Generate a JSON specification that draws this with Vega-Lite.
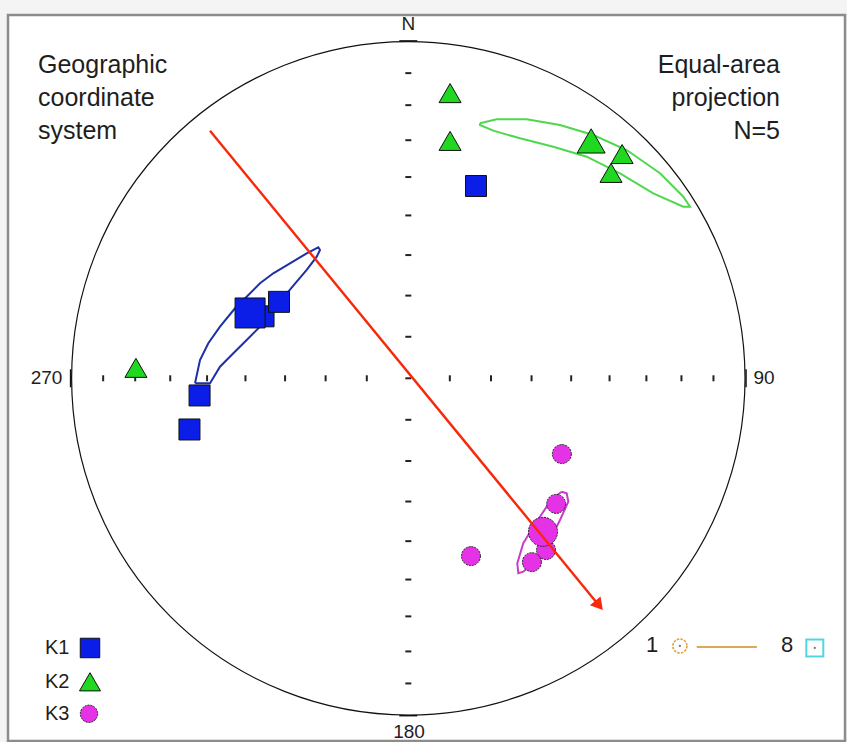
{
  "$schema": "https://vega.github.io/schema/vega-lite/v6.json",
  "width": 847,
  "height": 742,
  "padding": 0,
  "autosize": {"type": "none"},
  "background": "#f4f4f4",
  "config": {"view": {"stroke": null}},
  "datasets": {
    "frame": [{"x": -1.1889, "x2": 1.297, "y": 1.079, "y2": -1.0772}],
    "circle": [{"x": 0, "y": 0}],
    "hticks": [
      {"x": 0, "y": 0.1233}, {"x": 0, "y": 0.2456}, {"x": 0, "y": 0.366}, {"x": 0, "y": 0.4837},
      {"x": 0, "y": 0.5977}, {"x": 0, "y": 0.7071}, {"x": 0, "y": 0.8112}, {"x": 0, "y": 0.9063},
      {"x": 0, "y": -0.1233}, {"x": 0, "y": -0.2456}, {"x": 0, "y": -0.366}, {"x": 0, "y": -0.4837},
      {"x": 0, "y": -0.5977}, {"x": 0, "y": -0.7071}, {"x": 0, "y": -0.8112}, {"x": 0, "y": -0.9063},
      {"x": 0, "y": 0}
    ],
    "vticks": [
      {"y": 0, "x": 0.1233}, {"y": 0, "x": 0.2456}, {"y": 0, "x": 0.366}, {"y": 0, "x": 0.4837},
      {"y": 0, "x": 0.5977}, {"y": 0, "x": 0.7071}, {"y": 0, "x": 0.8112}, {"y": 0, "x": 0.9063},
      {"y": 0, "x": -0.1233}, {"y": 0, "x": -0.2456}, {"y": 0, "x": -0.366}, {"y": 0, "x": -0.4837},
      {"y": 0, "x": -0.5977}, {"y": 0, "x": -0.7071}, {"y": 0, "x": -0.8112}, {"y": 0, "x": -0.9063}
    ],
    "cardNS": [{"x": 0, "y": 1.002}, {"x": 0, "y": -1.002}],
    "cardEW": [{"x": -1.003, "y": 0}, {"x": 1.003, "y": 0}],
    "ell": [
      {"g": "K1", "i": 0, "x": -0.6335, "y": -0.0149},
      {"g": "K1", "i": 1, "x": -0.6187, "y": 0.0544},
      {"g": "K1", "i": 2, "x": -0.594, "y": 0.104},
      {"g": "K1", "i": 3, "x": -0.5593, "y": 0.1533},
      {"g": "K1", "i": 4, "x": -0.5147, "y": 0.2079},
      {"g": "K1", "i": 5, "x": -0.48, "y": 0.2424},
      {"g": "K1", "i": 6, "x": -0.4404, "y": 0.2822},
      {"g": "K1", "i": 7, "x": -0.401, "y": 0.3118},
      {"g": "K1", "i": 8, "x": -0.3514, "y": 0.3415},
      {"g": "K1", "i": 9, "x": -0.3018, "y": 0.3712},
      {"g": "K1", "i": 10, "x": -0.2673, "y": 0.3891},
      {"g": "K1", "i": 11, "x": -0.2623, "y": 0.3811},
      {"g": "K1", "i": 12, "x": -0.2721, "y": 0.3611},
      {"g": "K1", "i": 13, "x": -0.3018, "y": 0.3217},
      {"g": "K1", "i": 14, "x": -0.3315, "y": 0.2869},
      {"g": "K1", "i": 15, "x": -0.3564, "y": 0.2572},
      {"g": "K1", "i": 16, "x": -0.4404, "y": 0.1533},
      {"g": "K1", "i": 17, "x": -0.48, "y": 0.1138},
      {"g": "K1", "i": 18, "x": -0.5197, "y": 0.0743},
      {"g": "K1", "i": 19, "x": -0.5593, "y": 0.0345},
      {"g": "K1", "i": 20, "x": -0.589, "y": -0.0149},
      {"g": "K1", "i": 21, "x": -0.6335, "y": -0.0149},
      {"g": "K2", "i": 0, "x": 0.2129, "y": 0.7573},
      {"g": "K2", "i": 1, "x": 0.2625, "y": 0.7692},
      {"g": "K2", "i": 2, "x": 0.3516, "y": 0.7692},
      {"g": "K2", "i": 3, "x": 0.4505, "y": 0.7523},
      {"g": "K2", "i": 4, "x": 0.5494, "y": 0.7226},
      {"g": "K2", "i": 5, "x": 0.6486, "y": 0.678},
      {"g": "K2", "i": 6, "x": 0.7475, "y": 0.6088},
      {"g": "K2", "i": 7, "x": 0.8167, "y": 0.5394},
      {"g": "K2", "i": 8, "x": 0.8366, "y": 0.5097},
      {"g": "K2", "i": 9, "x": 0.8167, "y": 0.5097},
      {"g": "K2", "i": 10, "x": 0.7276, "y": 0.5494},
      {"g": "K2", "i": 11, "x": 0.6287, "y": 0.6088},
      {"g": "K2", "i": 12, "x": 0.5298, "y": 0.6582},
      {"g": "K2", "i": 13, "x": 0.4306, "y": 0.6878},
      {"g": "K2", "i": 14, "x": 0.3317, "y": 0.7128},
      {"g": "K2", "i": 15, "x": 0.2524, "y": 0.7354},
      {"g": "K2", "i": 16, "x": 0.2129, "y": 0.7523},
      {"g": "K2", "i": 17, "x": 0.2129, "y": 0.7573},
      {"g": "K3", "i": 0, "x": 0.4556, "y": -0.3368},
      {"g": "K3", "i": 1, "x": 0.4704, "y": -0.3416},
      {"g": "K3", "i": 2, "x": 0.4752, "y": -0.3665},
      {"g": "K3", "i": 3, "x": 0.4505, "y": -0.4208},
      {"g": "K3", "i": 4, "x": 0.4208, "y": -0.4802},
      {"g": "K3", "i": 5, "x": 0.3813, "y": -0.5397},
      {"g": "K3", "i": 6, "x": 0.3415, "y": -0.5744},
      {"g": "K3", "i": 7, "x": 0.3267, "y": -0.5791},
      {"g": "K3", "i": 8, "x": 0.3237, "y": -0.5494},
      {"g": "K3", "i": 9, "x": 0.3415, "y": -0.49},
      {"g": "K3", "i": 10, "x": 0.3712, "y": -0.4407},
      {"g": "K3", "i": 11, "x": 0.411, "y": -0.3813},
      {"g": "K3", "i": 12, "x": 0.4357, "y": -0.3516},
      {"g": "K3", "i": 13, "x": 0.4556, "y": -0.3368}
    ],
    "k1": [
      {"x": 0.201, "y": 0.571, "k": "site"},
      {"x": -0.43, "y": 0.184, "k": "site"},
      {"x": -0.384, "y": 0.227, "k": "site"},
      {"x": -0.62, "y": -0.051, "k": "site"},
      {"x": -0.65, "y": -0.152, "k": "site"},
      {"x": -0.47, "y": 0.194, "k": "mean"},
      {"x": -0.9454, "y": -0.801, "k": "leg"}
    ],
    "k2": [
      {"x": 0.124, "y": 0.847, "k": "site"},
      {"x": 0.124, "y": 0.705, "k": "site"},
      {"x": 0.635, "y": 0.666, "k": "site"},
      {"x": 0.602, "y": 0.61, "k": "site"},
      {"x": -0.809, "y": 0.031, "k": "site"},
      {"x": 0.543, "y": 0.705, "k": "mean"},
      {"x": -0.9454, "y": -0.9014, "k": "leg"}
    ],
    "k3": [
      {"x": 0.456, "y": -0.225, "k": "site"},
      {"x": 0.439, "y": -0.373, "k": "site"},
      {"x": 0.409, "y": -0.51, "k": "site"},
      {"x": 0.367, "y": -0.546, "k": "site"},
      {"x": 0.186, "y": -0.528, "k": "site"},
      {"x": 0.4, "y": -0.456, "k": "mean"},
      {"x": -0.9484, "y": -0.9964, "k": "leg"}
    ],
    "arrowLine": [
      {"i": 0, "x": -0.589, "y": 0.7354},
      {"i": 1, "x": 0.5664, "y": -0.6745}
    ],
    "arrowHead": [{"x": 0.5664, "y": -0.6745}],
    "axisLabels": [
      {"t": "N", "x": 0, "y": 1.0523},
      {"t": "180", "x": 0.002, "y": -1.0505},
      {"t": "270", "x": -1.0746, "y": 0},
      {"t": "90", "x": 1.0564, "y": 0}
    ],
    "leftText": [
      {"t": "Geographic", "x": -1.0998, "y": 0.9067},
      {"t": "coordinate", "x": -1.0998, "y": 0.8087},
      {"t": "system", "x": -1.0998, "y": 0.7107}
    ],
    "rightText": [
      {"t": "Equal-area", "x": 1.104, "y": 0.9067},
      {"t": "projection", "x": 1.104, "y": 0.8087},
      {"t": "N=5", "x": 1.104, "y": 0.7107}
    ],
    "legText": [
      {"t": "K1", "x": -1.079, "y": -0.801},
      {"t": "K2", "x": -1.079, "y": -0.9014},
      {"t": "K3", "x": -1.079, "y": -0.9964}
    ],
    "barText": [
      {"t": "1", "x": 0.7238, "y": -0.7921},
      {"t": "8", "x": 1.1247, "y": -0.7921}
    ],
    "barLine": [
      {"i": 0, "x": 0.8566, "y": -0.7981},
      {"i": 1, "x": 1.0352, "y": -0.7981}
    ],
    "barStart": [{"x": 0.8066, "y": -0.795}],
    "barEnd": [{"x": 1.2073, "y": -0.801}],
    "barDots": [{"x": 0.8066, "y": -0.795}, {"x": 1.2073, "y": -0.801}]
  },
  "layer": [
    {
      "data": {"name": "frame"},
      "mark": {"type": "rect", "fill": "#ffffff", "stroke": "#8c8c8c", "strokeWidth": 2.5},
      "encoding": {
        "x": {"field": "x", "type": "quantitative", "scale": {"domain": [-1.2127, 1.3029], "nice": false, "zero": false}, "axis": null},
        "x2": {"field": "x2"},
        "y": {"field": "y", "type": "quantitative", "scale": {"domain": [-1.0802, 1.1235], "nice": false, "zero": false}, "axis": null},
        "y2": {"field": "y2"}
      }
    },
    {
      "data": {"name": "circle"},
      "mark": {"type": "point", "shape": "circle", "filled": false, "stroke": "#111111", "strokeWidth": 1.2, "opacity": 1, "size": 453468},
      "encoding": {
        "x": {"field": "x", "type": "quantitative", "scale": {"domain": [-1.2127, 1.3029], "nice": false, "zero": false}, "axis": null},
        "y": {"field": "y", "type": "quantitative", "scale": {"domain": [-1.0802, 1.1235], "nice": false, "zero": false}, "axis": null}
      }
    },
    {
      "data": {"name": "cardNS"},
      "mark": {"type": "point", "shape": "stroke", "filled": false, "stroke": "#111111", "strokeWidth": 1.5, "opacity": 1, "size": 324},
      "encoding": {
        "x": {"field": "x", "type": "quantitative", "scale": {"domain": [-1.2127, 1.3029], "nice": false, "zero": false}, "axis": null},
        "y": {"field": "y", "type": "quantitative", "scale": {"domain": [-1.0802, 1.1235], "nice": false, "zero": false}, "axis": null}
      }
    },
    {
      "data": {"name": "cardEW"},
      "mark": {"type": "point", "shape": "stroke", "angle": 90, "filled": false, "stroke": "#111111", "strokeWidth": 1.5, "opacity": 1, "size": 324},
      "encoding": {
        "x": {"field": "x", "type": "quantitative", "scale": {"domain": [-1.2127, 1.3029], "nice": false, "zero": false}, "axis": null},
        "y": {"field": "y", "type": "quantitative", "scale": {"domain": [-1.0802, 1.1235], "nice": false, "zero": false}, "axis": null}
      }
    },
    {
      "data": {"name": "hticks"},
      "mark": {"type": "point", "shape": "stroke", "filled": false, "stroke": "#222222", "strokeWidth": 2, "opacity": 1, "size": 36},
      "encoding": {
        "x": {"field": "x", "type": "quantitative", "scale": {"domain": [-1.2127, 1.3029], "nice": false, "zero": false}, "axis": null},
        "y": {"field": "y", "type": "quantitative", "scale": {"domain": [-1.0802, 1.1235], "nice": false, "zero": false}, "axis": null}
      }
    },
    {
      "data": {"name": "vticks"},
      "mark": {"type": "point", "shape": "stroke", "angle": 90, "filled": false, "stroke": "#222222", "strokeWidth": 2, "opacity": 1, "size": 36},
      "encoding": {
        "x": {"field": "x", "type": "quantitative", "scale": {"domain": [-1.2127, 1.3029], "nice": false, "zero": false}, "axis": null},
        "y": {"field": "y", "type": "quantitative", "scale": {"domain": [-1.0802, 1.1235], "nice": false, "zero": false}, "axis": null}
      }
    },
    {
      "data": {"name": "ell"},
      "mark": {"type": "line", "strokeWidth": 2, "interpolate": "linear"},
      "encoding": {
        "x": {"field": "x", "type": "quantitative", "scale": {"domain": [-1.2127, 1.3029], "nice": false, "zero": false}, "axis": null},
        "y": {"field": "y", "type": "quantitative", "scale": {"domain": [-1.0802, 1.1235], "nice": false, "zero": false}, "axis": null},
        "order": {"field": "i", "type": "quantitative"},
        "color": {"field": "g", "type": "nominal", "scale": {"domain": ["K1", "K2", "K3"], "range": ["#1f2fa8", "#4fd84f", "#c83ccc"]}, "legend": null}
      }
    },
    {
      "data": {"name": "k1"},
      "mark": {"type": "point", "shape": "square", "filled": true, "fill": "#0a1ee8", "stroke": "#111111", "strokeWidth": 1, "opacity": 1},
      "encoding": {
        "x": {"field": "x", "type": "quantitative", "scale": {"domain": [-1.2127, 1.3029], "nice": false, "zero": false}, "axis": null},
        "y": {"field": "y", "type": "quantitative", "scale": {"domain": [-1.0802, 1.1235], "nice": false, "zero": false}, "axis": null},
        "size": {"condition": [{"test": "datum.k === 'mean'", "value": 900}, {"test": "datum.k === 'leg'", "value": 380}], "value": 441}
      }
    },
    {
      "data": {"name": "k2"},
      "mark": {"type": "point", "shape": "triangle-up", "filled": true, "fill": "#1fd81f", "stroke": "#111111", "strokeWidth": 1, "opacity": 1},
      "encoding": {
        "x": {"field": "x", "type": "quantitative", "scale": {"domain": [-1.2127, 1.3029], "nice": false, "zero": false}, "axis": null},
        "y": {"field": "y", "type": "quantitative", "scale": {"domain": [-1.0802, 1.1235], "nice": false, "zero": false}, "axis": null},
        "size": {"condition": [{"test": "datum.k === 'mean'", "value": 784}, {"test": "datum.k === 'leg'", "value": 441}], "value": 484}
      }
    },
    {
      "data": {"name": "k3"},
      "mark": {"type": "point", "shape": "circle", "filled": true, "fill": "#e632e6", "stroke": "#222222", "strokeWidth": 1, "strokeDash": [2, 1], "opacity": 1},
      "encoding": {
        "x": {"field": "x", "type": "quantitative", "scale": {"domain": [-1.2127, 1.3029], "nice": false, "zero": false}, "axis": null},
        "y": {"field": "y", "type": "quantitative", "scale": {"domain": [-1.0802, 1.1235], "nice": false, "zero": false}, "axis": null},
        "size": {"condition": [{"test": "datum.k === 'mean'", "value": 841}, {"test": "datum.k === 'leg'", "value": 300}], "value": 361}
      }
    },
    {
      "data": {"name": "arrowLine"},
      "mark": {"type": "line", "color": "#f8280a", "strokeWidth": 2.4},
      "encoding": {
        "x": {"field": "x", "type": "quantitative", "scale": {"domain": [-1.2127, 1.3029], "nice": false, "zero": false}, "axis": null},
        "y": {"field": "y", "type": "quantitative", "scale": {"domain": [-1.0802, 1.1235], "nice": false, "zero": false}, "axis": null},
        "order": {"field": "i", "type": "quantitative"}
      }
    },
    {
      "data": {"name": "arrowHead"},
      "mark": {"type": "point", "shape": "triangle-up", "angle": 140.6, "filled": true, "fill": "#f8280a", "strokeWidth": 0, "opacity": 1, "size": 190},
      "encoding": {
        "x": {"field": "x", "type": "quantitative", "scale": {"domain": [-1.2127, 1.3029], "nice": false, "zero": false}, "axis": null},
        "y": {"field": "y", "type": "quantitative", "scale": {"domain": [-1.0802, 1.1235], "nice": false, "zero": false}, "axis": null}
      }
    },
    {
      "data": {"name": "axisLabels"},
      "mark": {"type": "text", "font": "Liberation Sans", "fontSize": 19, "color": "#1e1e1e", "align": "center", "baseline": "middle"},
      "encoding": {
        "x": {"field": "x", "type": "quantitative", "scale": {"domain": [-1.2127, 1.3029], "nice": false, "zero": false}, "axis": null},
        "y": {"field": "y", "type": "quantitative", "scale": {"domain": [-1.0802, 1.1235], "nice": false, "zero": false}, "axis": null},
        "text": {"field": "t"}
      }
    },
    {
      "data": {"name": "leftText"},
      "mark": {"type": "text", "font": "Liberation Sans", "fontSize": 25, "color": "#1e1e1e", "align": "left", "baseline": "alphabetic"},
      "encoding": {
        "x": {"field": "x", "type": "quantitative", "scale": {"domain": [-1.2127, 1.3029], "nice": false, "zero": false}, "axis": null},
        "y": {"field": "y", "type": "quantitative", "scale": {"domain": [-1.0802, 1.1235], "nice": false, "zero": false}, "axis": null},
        "text": {"field": "t"}
      }
    },
    {
      "data": {"name": "rightText"},
      "mark": {"type": "text", "font": "Liberation Sans", "fontSize": 25, "color": "#1e1e1e", "align": "right", "baseline": "alphabetic"},
      "encoding": {
        "x": {"field": "x", "type": "quantitative", "scale": {"domain": [-1.2127, 1.3029], "nice": false, "zero": false}, "axis": null},
        "y": {"field": "y", "type": "quantitative", "scale": {"domain": [-1.0802, 1.1235], "nice": false, "zero": false}, "axis": null},
        "text": {"field": "t"}
      }
    },
    {
      "data": {"name": "legText"},
      "mark": {"type": "text", "font": "Liberation Sans", "fontSize": 20, "color": "#1e1e1e", "align": "left", "baseline": "middle"},
      "encoding": {
        "x": {"field": "x", "type": "quantitative", "scale": {"domain": [-1.2127, 1.3029], "nice": false, "zero": false}, "axis": null},
        "y": {"field": "y", "type": "quantitative", "scale": {"domain": [-1.0802, 1.1235], "nice": false, "zero": false}, "axis": null},
        "text": {"field": "t"}
      }
    },
    {
      "data": {"name": "barText"},
      "mark": {"type": "text", "font": "Liberation Sans", "fontSize": 22, "color": "#1e1e1e", "align": "center", "baseline": "middle"},
      "encoding": {
        "x": {"field": "x", "type": "quantitative", "scale": {"domain": [-1.2127, 1.3029], "nice": false, "zero": false}, "axis": null},
        "y": {"field": "y", "type": "quantitative", "scale": {"domain": [-1.0802, 1.1235], "nice": false, "zero": false}, "axis": null},
        "text": {"field": "t"}
      }
    },
    {
      "data": {"name": "barLine"},
      "mark": {"type": "line", "color": "#dfa65c", "strokeWidth": 2},
      "encoding": {
        "x": {"field": "x", "type": "quantitative", "scale": {"domain": [-1.2127, 1.3029], "nice": false, "zero": false}, "axis": null},
        "y": {"field": "y", "type": "quantitative", "scale": {"domain": [-1.0802, 1.1235], "nice": false, "zero": false}, "axis": null},
        "order": {"field": "i", "type": "quantitative"}
      }
    },
    {
      "data": {"name": "barStart"},
      "mark": {"type": "point", "shape": "circle", "filled": false, "stroke": "#e0a040", "strokeWidth": 1.6, "strokeDash": [2.5, 1.2], "opacity": 1, "size": 196},
      "encoding": {
        "x": {"field": "x", "type": "quantitative", "scale": {"domain": [-1.2127, 1.3029], "nice": false, "zero": false}, "axis": null},
        "y": {"field": "y", "type": "quantitative", "scale": {"domain": [-1.0802, 1.1235], "nice": false, "zero": false}, "axis": null}
      }
    },
    {
      "data": {"name": "barEnd"},
      "mark": {"type": "point", "shape": "square", "filled": false, "stroke": "#52d6e0", "strokeWidth": 2, "opacity": 1, "size": 289},
      "encoding": {
        "x": {"field": "x", "type": "quantitative", "scale": {"domain": [-1.2127, 1.3029], "nice": false, "zero": false}, "axis": null},
        "y": {"field": "y", "type": "quantitative", "scale": {"domain": [-1.0802, 1.1235], "nice": false, "zero": false}, "axis": null}
      }
    },
    {
      "data": {"name": "barDots"},
      "mark": {"type": "point", "shape": "circle", "filled": true, "fill": "#777777", "strokeWidth": 0, "opacity": 1, "size": 5},
      "encoding": {
        "x": {"field": "x", "type": "quantitative", "scale": {"domain": [-1.2127, 1.3029], "nice": false, "zero": false}, "axis": null},
        "y": {"field": "y", "type": "quantitative", "scale": {"domain": [-1.0802, 1.1235], "nice": false, "zero": false}, "axis": null}
      }
    }
  ]
}
